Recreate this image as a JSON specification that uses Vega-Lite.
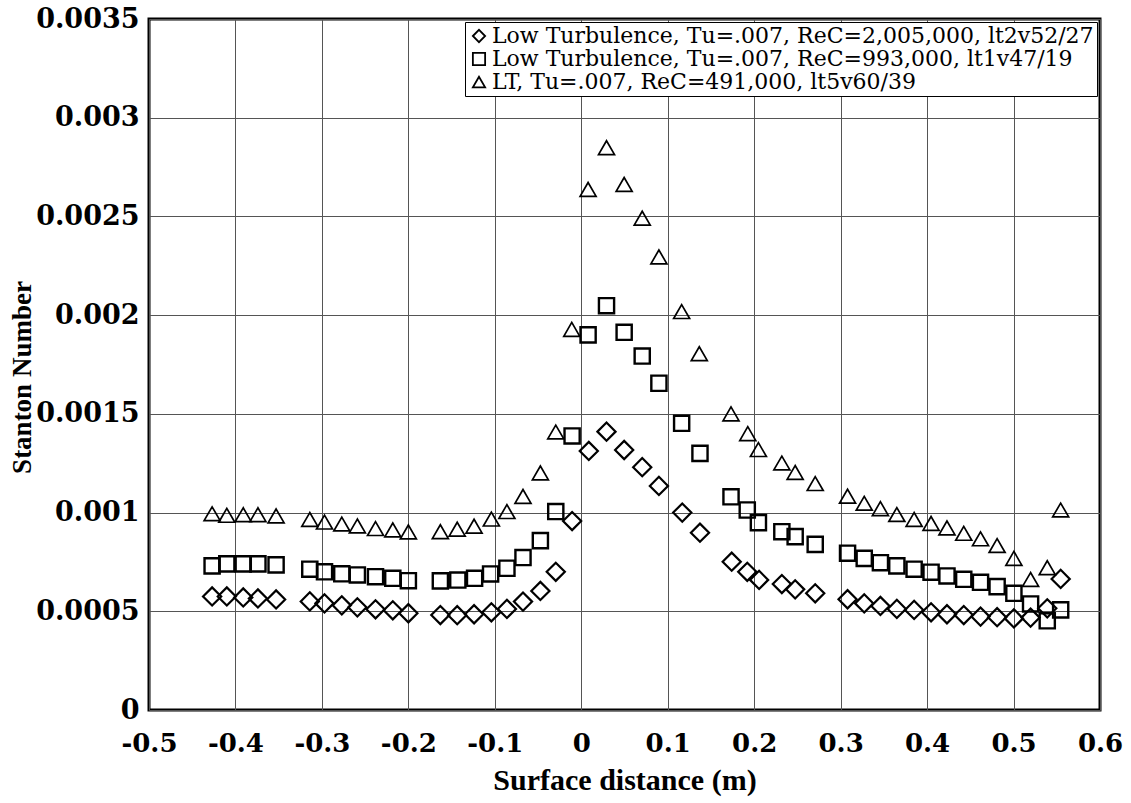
{
  "$schema": "https://vega.github.io/schema/vega-lite/v6.json",
  "width": 951,
  "height": 691,
  "autosize": "none",
  "padding": {"left": 149, "top": 19, "right": 31, "bottom": 93},
  "background": "white",
  "config": {
    "view": {"stroke": "black", "strokeWidth": 3},
    "axis": {"grid": true, "gridColor": "#555", "gridWidth": 1, "gridOpacity": 1, "domain": false, "ticks": false, "labelColor": "black", "titleColor": "black", "labelFont": "DejaVu Serif", "labelFontWeight": "bold", "labelFontSize": 26, "titleFontWeight": "bold"}
  },
  "data": {"values": [
    {"series": "Low Turbulence, Tu=.007, ReC=2,005,000, lt2v52/27", "x": -0.427, "y": 0.000575},
    {"series": "Low Turbulence, Tu=.007, ReC=2,005,000, lt2v52/27", "x": -0.410, "y": 0.000575},
    {"series": "Low Turbulence, Tu=.007, ReC=2,005,000, lt2v52/27", "x": -0.391, "y": 0.00057},
    {"series": "Low Turbulence, Tu=.007, ReC=2,005,000, lt2v52/27", "x": -0.374, "y": 0.000565},
    {"series": "Low Turbulence, Tu=.007, ReC=2,005,000, lt2v52/27", "x": -0.353, "y": 0.00056},
    {"series": "Low Turbulence, Tu=.007, ReC=2,005,000, lt2v52/27", "x": -0.314, "y": 0.00055},
    {"series": "Low Turbulence, Tu=.007, ReC=2,005,000, lt2v52/27", "x": -0.297, "y": 0.00054},
    {"series": "Low Turbulence, Tu=.007, ReC=2,005,000, lt2v52/27", "x": -0.277, "y": 0.00053},
    {"series": "Low Turbulence, Tu=.007, ReC=2,005,000, lt2v52/27", "x": -0.259, "y": 0.00052},
    {"series": "Low Turbulence, Tu=.007, ReC=2,005,000, lt2v52/27", "x": -0.238, "y": 0.00051},
    {"series": "Low Turbulence, Tu=.007, ReC=2,005,000, lt2v52/27", "x": -0.218, "y": 0.000505},
    {"series": "Low Turbulence, Tu=.007, ReC=2,005,000, lt2v52/27", "x": -0.200, "y": 0.00049},
    {"series": "Low Turbulence, Tu=.007, ReC=2,005,000, lt2v52/27", "x": -0.163, "y": 0.000481},
    {"series": "Low Turbulence, Tu=.007, ReC=2,005,000, lt2v52/27", "x": -0.1435, "y": 0.00048},
    {"series": "Low Turbulence, Tu=.007, ReC=2,005,000, lt2v52/27", "x": -0.124, "y": 0.000485},
    {"series": "Low Turbulence, Tu=.007, ReC=2,005,000, lt2v52/27", "x": -0.104, "y": 0.000495},
    {"series": "Low Turbulence, Tu=.007, ReC=2,005,000, lt2v52/27", "x": -0.086, "y": 0.000512},
    {"series": "Low Turbulence, Tu=.007, ReC=2,005,000, lt2v52/27", "x": -0.0674, "y": 0.000549},
    {"series": "Low Turbulence, Tu=.007, ReC=2,005,000, lt2v52/27", "x": -0.0473, "y": 0.000603},
    {"series": "Low Turbulence, Tu=.007, ReC=2,005,000, lt2v52/27", "x": -0.0295, "y": 0.0007},
    {"series": "Low Turbulence, Tu=.007, ReC=2,005,000, lt2v52/27", "x": -0.0106, "y": 0.000957},
    {"series": "Low Turbulence, Tu=.007, ReC=2,005,000, lt2v52/27", "x": 0.0087, "y": 0.001312},
    {"series": "Low Turbulence, Tu=.007, ReC=2,005,000, lt2v52/27", "x": 0.0292, "y": 0.00141},
    {"series": "Low Turbulence, Tu=.007, ReC=2,005,000, lt2v52/27", "x": 0.0496, "y": 0.001317},
    {"series": "Low Turbulence, Tu=.007, ReC=2,005,000, lt2v52/27", "x": 0.0705, "y": 0.00123},
    {"series": "Low Turbulence, Tu=.007, ReC=2,005,000, lt2v52/27", "x": 0.0898, "y": 0.001135},
    {"series": "Low Turbulence, Tu=.007, ReC=2,005,000, lt2v52/27", "x": 0.1168, "y": 0.001},
    {"series": "Low Turbulence, Tu=.007, ReC=2,005,000, lt2v52/27", "x": 0.1373, "y": 0.000898},
    {"series": "Low Turbulence, Tu=.007, ReC=2,005,000, lt2v52/27", "x": 0.174, "y": 0.000751},
    {"series": "Low Turbulence, Tu=.007, ReC=2,005,000, lt2v52/27", "x": 0.192, "y": 0.0007},
    {"series": "Low Turbulence, Tu=.007, ReC=2,005,000, lt2v52/27", "x": 0.2057, "y": 0.000659},
    {"series": "Low Turbulence, Tu=.007, ReC=2,005,000, lt2v52/27", "x": 0.232, "y": 0.000638},
    {"series": "Low Turbulence, Tu=.007, ReC=2,005,000, lt2v52/27", "x": 0.2474, "y": 0.000611},
    {"series": "Low Turbulence, Tu=.007, ReC=2,005,000, lt2v52/27", "x": 0.2706, "y": 0.000591},
    {"series": "Low Turbulence, Tu=.007, ReC=2,005,000, lt2v52/27", "x": 0.308, "y": 0.000561},
    {"series": "Low Turbulence, Tu=.007, ReC=2,005,000, lt2v52/27", "x": 0.3273, "y": 0.00054},
    {"series": "Low Turbulence, Tu=.007, ReC=2,005,000, lt2v52/27", "x": 0.346, "y": 0.000527},
    {"series": "Low Turbulence, Tu=.007, ReC=2,005,000, lt2v52/27", "x": 0.365, "y": 0.000512},
    {"series": "Low Turbulence, Tu=.007, ReC=2,005,000, lt2v52/27", "x": 0.385, "y": 0.000507},
    {"series": "Low Turbulence, Tu=.007, ReC=2,005,000, lt2v52/27", "x": 0.4046, "y": 0.000495},
    {"series": "Low Turbulence, Tu=.007, ReC=2,005,000, lt2v52/27", "x": 0.423, "y": 0.000485},
    {"series": "Low Turbulence, Tu=.007, ReC=2,005,000, lt2v52/27", "x": 0.4424, "y": 0.000481},
    {"series": "Low Turbulence, Tu=.007, ReC=2,005,000, lt2v52/27", "x": 0.4618, "y": 0.000473},
    {"series": "Low Turbulence, Tu=.007, ReC=2,005,000, lt2v52/27", "x": 0.481, "y": 0.00047},
    {"series": "Low Turbulence, Tu=.007, ReC=2,005,000, lt2v52/27", "x": 0.5004, "y": 0.000464},
    {"series": "Low Turbulence, Tu=.007, ReC=2,005,000, lt2v52/27", "x": 0.5197, "y": 0.000468},
    {"series": "Low Turbulence, Tu=.007, ReC=2,005,000, lt2v52/27", "x": 0.539, "y": 0.000515},
    {"series": "Low Turbulence, Tu=.007, ReC=2,005,000, lt2v52/27", "x": 0.5545, "y": 0.000664},

    {"series": "Low Turbulence, Tu=.007, ReC=993,000, lt1v47/19", "x": -0.427, "y": 0.00073},
    {"series": "Low Turbulence, Tu=.007, ReC=993,000, lt1v47/19", "x": -0.410, "y": 0.00074},
    {"series": "Low Turbulence, Tu=.007, ReC=993,000, lt1v47/19", "x": -0.391, "y": 0.00074},
    {"series": "Low Turbulence, Tu=.007, ReC=993,000, lt1v47/19", "x": -0.374, "y": 0.00074},
    {"series": "Low Turbulence, Tu=.007, ReC=993,000, lt1v47/19", "x": -0.353, "y": 0.000735},
    {"series": "Low Turbulence, Tu=.007, ReC=993,000, lt1v47/19", "x": -0.314, "y": 0.000713},
    {"series": "Low Turbulence, Tu=.007, ReC=993,000, lt1v47/19", "x": -0.297, "y": 0.0007},
    {"series": "Low Turbulence, Tu=.007, ReC=993,000, lt1v47/19", "x": -0.277, "y": 0.00069},
    {"series": "Low Turbulence, Tu=.007, ReC=993,000, lt1v47/19", "x": -0.259, "y": 0.000684},
    {"series": "Low Turbulence, Tu=.007, ReC=993,000, lt1v47/19", "x": -0.238, "y": 0.000675},
    {"series": "Low Turbulence, Tu=.007, ReC=993,000, lt1v47/19", "x": -0.218, "y": 0.000667},
    {"series": "Low Turbulence, Tu=.007, ReC=993,000, lt1v47/19", "x": -0.200, "y": 0.000655},
    {"series": "Low Turbulence, Tu=.007, ReC=993,000, lt1v47/19", "x": -0.163, "y": 0.000654},
    {"series": "Low Turbulence, Tu=.007, ReC=993,000, lt1v47/19", "x": -0.1428, "y": 0.000658},
    {"series": "Low Turbulence, Tu=.007, ReC=993,000, lt1v47/19", "x": -0.1234, "y": 0.000667},
    {"series": "Low Turbulence, Tu=.007, ReC=993,000, lt1v47/19", "x": -0.1049, "y": 0.000689},
    {"series": "Low Turbulence, Tu=.007, ReC=993,000, lt1v47/19", "x": -0.086, "y": 0.000718},
    {"series": "Low Turbulence, Tu=.007, ReC=993,000, lt1v47/19", "x": -0.0674, "y": 0.000772},
    {"series": "Low Turbulence, Tu=.007, ReC=993,000, lt1v47/19", "x": -0.0473, "y": 0.000858},
    {"series": "Low Turbulence, Tu=.007, ReC=993,000, lt1v47/19", "x": -0.0295, "y": 0.001005},
    {"series": "Low Turbulence, Tu=.007, ReC=993,000, lt1v47/19", "x": -0.0106, "y": 0.001388},
    {"series": "Low Turbulence, Tu=.007, ReC=993,000, lt1v47/19", "x": 0.0079, "y": 0.0019},
    {"series": "Low Turbulence, Tu=.007, ReC=993,000, lt1v47/19", "x": 0.0292, "y": 0.002048},
    {"series": "Low Turbulence, Tu=.007, ReC=993,000, lt1v47/19", "x": 0.0496, "y": 0.001913},
    {"series": "Low Turbulence, Tu=.007, ReC=993,000, lt1v47/19", "x": 0.0705, "y": 0.001793},
    {"series": "Low Turbulence, Tu=.007, ReC=993,000, lt1v47/19", "x": 0.0898, "y": 0.001655},
    {"series": "Low Turbulence, Tu=.007, ReC=993,000, lt1v47/19", "x": 0.1161, "y": 0.001452},
    {"series": "Low Turbulence, Tu=.007, ReC=993,000, lt1v47/19", "x": 0.1373, "y": 0.0013},
    {"series": "Low Turbulence, Tu=.007, ReC=993,000, lt1v47/19", "x": 0.1732, "y": 0.00108},
    {"series": "Low Turbulence, Tu=.007, ReC=993,000, lt1v47/19", "x": 0.192, "y": 0.001013},
    {"series": "Low Turbulence, Tu=.007, ReC=993,000, lt1v47/19", "x": 0.2049, "y": 0.000949},
    {"series": "Low Turbulence, Tu=.007, ReC=993,000, lt1v47/19", "x": 0.232, "y": 0.000903},
    {"series": "Low Turbulence, Tu=.007, ReC=993,000, lt1v47/19", "x": 0.2474, "y": 0.000878},
    {"series": "Low Turbulence, Tu=.007, ReC=993,000, lt1v47/19", "x": 0.2706, "y": 0.000839},
    {"series": "Low Turbulence, Tu=.007, ReC=993,000, lt1v47/19", "x": 0.308, "y": 0.000794},
    {"series": "Low Turbulence, Tu=.007, ReC=993,000, lt1v47/19", "x": 0.3273, "y": 0.000768},
    {"series": "Low Turbulence, Tu=.007, ReC=993,000, lt1v47/19", "x": 0.346, "y": 0.000746},
    {"series": "Low Turbulence, Tu=.007, ReC=993,000, lt1v47/19", "x": 0.365, "y": 0.00073},
    {"series": "Low Turbulence, Tu=.007, ReC=993,000, lt1v47/19", "x": 0.385, "y": 0.000713},
    {"series": "Low Turbulence, Tu=.007, ReC=993,000, lt1v47/19", "x": 0.4046, "y": 0.000698},
    {"series": "Low Turbulence, Tu=.007, ReC=993,000, lt1v47/19", "x": 0.423, "y": 0.000679},
    {"series": "Low Turbulence, Tu=.007, ReC=993,000, lt1v47/19", "x": 0.4424, "y": 0.000662},
    {"series": "Low Turbulence, Tu=.007, ReC=993,000, lt1v47/19", "x": 0.4618, "y": 0.000647},
    {"series": "Low Turbulence, Tu=.007, ReC=993,000, lt1v47/19", "x": 0.481, "y": 0.000625},
    {"series": "Low Turbulence, Tu=.007, ReC=993,000, lt1v47/19", "x": 0.5004, "y": 0.000591},
    {"series": "Low Turbulence, Tu=.007, ReC=993,000, lt1v47/19", "x": 0.5197, "y": 0.000537},
    {"series": "Low Turbulence, Tu=.007, ReC=993,000, lt1v47/19", "x": 0.539, "y": 0.000452},
    {"series": "Low Turbulence, Tu=.007, ReC=993,000, lt1v47/19", "x": 0.5545, "y": 0.000507},

    {"series": "LT, Tu=.007, ReC=491,000, lt5v60/39", "x": -0.427, "y": 0.000994},
    {"series": "LT, Tu=.007, ReC=491,000, lt5v60/39", "x": -0.410, "y": 0.000986},
    {"series": "LT, Tu=.007, ReC=491,000, lt5v60/39", "x": -0.391, "y": 0.000989},
    {"series": "LT, Tu=.007, ReC=491,000, lt5v60/39", "x": -0.374, "y": 0.000989},
    {"series": "LT, Tu=.007, ReC=491,000, lt5v60/39", "x": -0.353, "y": 0.000983},
    {"series": "LT, Tu=.007, ReC=491,000, lt5v60/39", "x": -0.314, "y": 0.000965},
    {"series": "LT, Tu=.007, ReC=491,000, lt5v60/39", "x": -0.297, "y": 0.000952},
    {"series": "LT, Tu=.007, ReC=491,000, lt5v60/39", "x": -0.277, "y": 0.000942},
    {"series": "LT, Tu=.007, ReC=491,000, lt5v60/39", "x": -0.259, "y": 0.000932},
    {"series": "LT, Tu=.007, ReC=491,000, lt5v60/39", "x": -0.238, "y": 0.000919},
    {"series": "LT, Tu=.007, ReC=491,000, lt5v60/39", "x": -0.218, "y": 0.000912},
    {"series": "LT, Tu=.007, ReC=491,000, lt5v60/39", "x": -0.200, "y": 0.000902},
    {"series": "LT, Tu=.007, ReC=491,000, lt5v60/39", "x": -0.163, "y": 0.000903},
    {"series": "LT, Tu=.007, ReC=491,000, lt5v60/39", "x": -0.1435, "y": 0.000916},
    {"series": "LT, Tu=.007, ReC=491,000, lt5v60/39", "x": -0.124, "y": 0.000931},
    {"series": "LT, Tu=.007, ReC=491,000, lt5v60/39", "x": -0.104, "y": 0.000967},
    {"series": "LT, Tu=.007, ReC=491,000, lt5v60/39", "x": -0.086, "y": 0.001005},
    {"series": "LT, Tu=.007, ReC=491,000, lt5v60/39", "x": -0.0674, "y": 0.001082},
    {"series": "LT, Tu=.007, ReC=491,000, lt5v60/39", "x": -0.0473, "y": 0.001201},
    {"series": "LT, Tu=.007, ReC=491,000, lt5v60/39", "x": -0.0295, "y": 0.001408},
    {"series": "LT, Tu=.007, ReC=491,000, lt5v60/39", "x": -0.011, "y": 0.001928},
    {"series": "LT, Tu=.007, ReC=491,000, lt5v60/39", "x": 0.0079, "y": 0.002637},
    {"series": "LT, Tu=.007, ReC=491,000, lt5v60/39", "x": 0.0292, "y": 0.002848},
    {"series": "LT, Tu=.007, ReC=491,000, lt5v60/39", "x": 0.0496, "y": 0.002662},
    {"series": "LT, Tu=.007, ReC=491,000, lt5v60/39", "x": 0.0705, "y": 0.002491},
    {"series": "LT, Tu=.007, ReC=491,000, lt5v60/39", "x": 0.0898, "y": 0.002295},
    {"series": "LT, Tu=.007, ReC=491,000, lt5v60/39", "x": 0.1161, "y": 0.002018},
    {"series": "LT, Tu=.007, ReC=491,000, lt5v60/39", "x": 0.1365, "y": 0.001805},
    {"series": "LT, Tu=.007, ReC=491,000, lt5v60/39", "x": 0.1732, "y": 0.0015},
    {"series": "LT, Tu=.007, ReC=491,000, lt5v60/39", "x": 0.1926, "y": 0.0014},
    {"series": "LT, Tu=.007, ReC=491,000, lt5v60/39", "x": 0.2049, "y": 0.001319},
    {"series": "LT, Tu=.007, ReC=491,000, lt5v60/39", "x": 0.232, "y": 0.001251},
    {"series": "LT, Tu=.007, ReC=491,000, lt5v60/39", "x": 0.2474, "y": 0.001203},
    {"series": "LT, Tu=.007, ReC=491,000, lt5v60/39", "x": 0.2706, "y": 0.001147},
    {"series": "LT, Tu=.007, ReC=491,000, lt5v60/39", "x": 0.308, "y": 0.001083},
    {"series": "LT, Tu=.007, ReC=491,000, lt5v60/39", "x": 0.3273, "y": 0.001047},
    {"series": "LT, Tu=.007, ReC=491,000, lt5v60/39", "x": 0.346, "y": 0.00102},
    {"series": "LT, Tu=.007, ReC=491,000, lt5v60/39", "x": 0.365, "y": 0.00099},
    {"series": "LT, Tu=.007, ReC=491,000, lt5v60/39", "x": 0.385, "y": 0.000965},
    {"series": "LT, Tu=.007, ReC=491,000, lt5v60/39", "x": 0.4046, "y": 0.000945},
    {"series": "LT, Tu=.007, ReC=491,000, lt5v60/39", "x": 0.423, "y": 0.000922},
    {"series": "LT, Tu=.007, ReC=491,000, lt5v60/39", "x": 0.4424, "y": 0.000895},
    {"series": "LT, Tu=.007, ReC=491,000, lt5v60/39", "x": 0.4618, "y": 0.000867},
    {"series": "LT, Tu=.007, ReC=491,000, lt5v60/39", "x": 0.481, "y": 0.000833},
    {"series": "LT, Tu=.007, ReC=491,000, lt5v60/39", "x": 0.5004, "y": 0.000768},
    {"series": "LT, Tu=.007, ReC=491,000, lt5v60/39", "x": 0.5197, "y": 0.000661},
    {"series": "LT, Tu=.007, ReC=491,000, lt5v60/39", "x": 0.539, "y": 0.000721},
    {"series": "LT, Tu=.007, ReC=491,000, lt5v60/39", "x": 0.5545, "y": 0.001013}
  ]},
  "encoding": {
    "x": {
      "field": "x", "type": "quantitative",
      "scale": {"domain": [-0.5, 0.6], "nice": false, "zero": false},
      "axis": {
        "values": [-0.5, -0.4, -0.3, -0.2, -0.1, 0, 0.1, 0.2, 0.3, 0.4, 0.5, 0.6],
        "labelExpr": "datum.value < 0 ? '-' + format(-datum.value, '.1~f') : format(datum.value, '.1~f')",
        "labelPadding": 20,
        "labelFlush": false,
        "title": "Surface distance (m)",
        "titleFont": "Liberation Serif",
        "titleFontSize": 30,
        "titlePadding": 9
      }
    },
    "y": {
      "field": "y", "type": "quantitative",
      "scale": {"domain": [0, 0.0035], "nice": false},
      "axis": {
        "values": [0, 0.0005, 0.001, 0.0015, 0.002, 0.0025, 0.003, 0.0035],
        "labelExpr": "format(datum.value, '.4~f')",
        "labelPadding": 10,
        "labelFlush": false,
        "labelFontSize": 27,
        "title": "Stanton Number",
        "titleFont": "Liberation Serif",
        "titleFontSize": 27,
        "titleAngle": 270,
        "titleX": -127,
        "titleY": 358,
        "titleAlign": "center",
        "titleBaseline": "middle"
      }
    },
    "shape": {
      "field": "series", "type": "nominal",
      "scale": {
        "domain": ["Low Turbulence, Tu=.007, ReC=2,005,000, lt2v52/27", "Low Turbulence, Tu=.007, ReC=993,000, lt1v47/19", "LT, Tu=.007, ReC=491,000, lt5v60/39"],
        "range": ["diamond", "square", "triangle-up"]
      },
      "legend": {
        "title": null,
        "orient": "top-right",
        "offset": 3,
        "labelFont": "DejaVu Serif",
        "labelFontSize": 22,
        "labelColor": "black",
        "symbolStrokeColor": "black",
        "symbolFillColor": "white",
        "symbolStrokeWidth": 1.8,
        "symbolSize": 150,
        "strokeColor": "black",
        "fillColor": "white",
        "padding": 3,
        "rowPadding": 1,
        "labelOffset": 2,
        "labelLimit": 0
      }
    }
  },
  "layer": [
    {
      "transform": [{"filter": "datum.series === 'Low Turbulence, Tu=.007, ReC=2,005,000, lt2v52/27'"}],
      "mark": {"type": "point", "filled": false, "opacity": 1, "color": "black", "size": 330, "strokeWidth": 2.2}
    },
    {
      "transform": [{"filter": "datum.series === 'Low Turbulence, Tu=.007, ReC=993,000, lt1v47/19'"}],
      "mark": {"type": "point", "filled": false, "opacity": 1, "color": "black", "size": 230, "strokeWidth": 2.4}
    },
    {
      "transform": [{"filter": "datum.series === 'LT, Tu=.007, ReC=491,000, lt5v60/39'"}],
      "mark": {"type": "point", "filled": false, "opacity": 1, "color": "black", "size": 256, "strokeWidth": 1.7}
    }
  ]
}
